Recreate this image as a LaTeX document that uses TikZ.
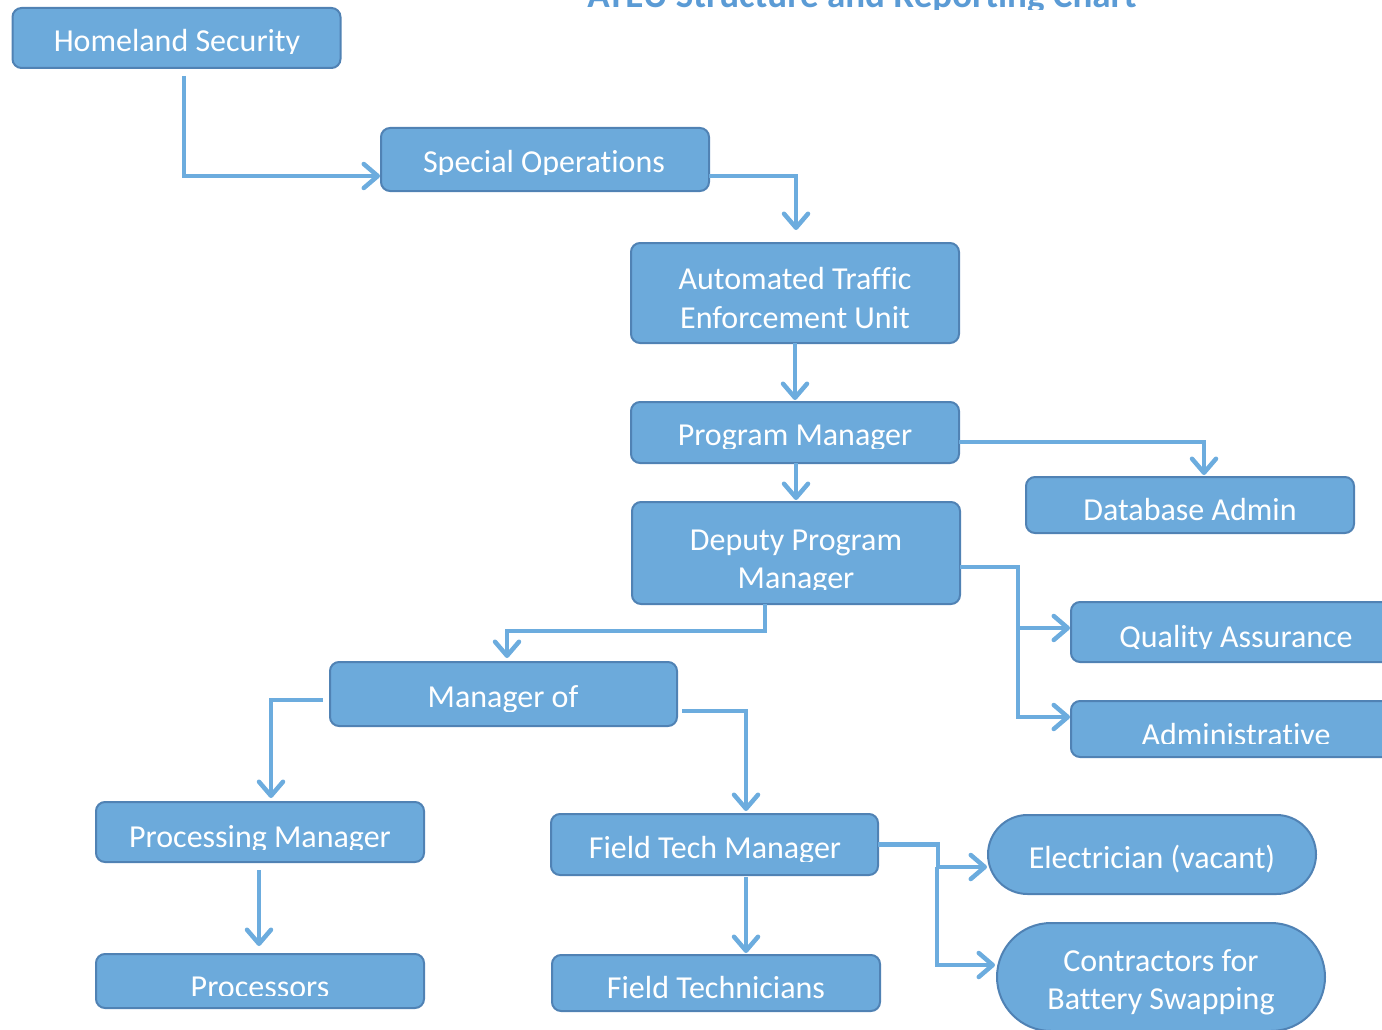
\documentclass[tikz,border=0pt]{standalone}
\usepackage{fontspec}
\setmainfont{Carlito}[Ligatures=NoCommon]
\usetikzlibrary{arrows.meta,calc}

\definecolor{boxfill}{RGB}{108,170,219}
\definecolor{boxline}{RGB}{80,130,180}
\definecolor{linkblue}{RGB}{108,172,222}
\definecolor{titleblue}{RGB}{91,155,213}

% label whose lower part is cut off at a given height
% #1 name, #2 x, #3 baseline y, #4 cut y, #5 text
\newcommand\cutlabel[5]{%
  \begin{scope}
    \clip (#2-340,#4) rectangle (#2+340,#3-80);
    \node[lbl] (#1) at (#2,#3) {#5};
  \end{scope}}

\begin{document}
\begin{tikzpicture}[x=1pt,y=-1pt,
    box/.style={draw=boxline, line width=2pt, fill=boxfill, rounded corners=9pt,
      minimum width=328pt, minimum height=#1, inner sep=0pt, outer sep=0pt},
    pill/.style={draw=boxline, line width=2pt, fill=boxfill, rounded corners=#1,
      minimum width=328pt, inner sep=0pt, outer sep=0pt},
    lbl/.style={text=white, anchor=base, inner sep=0pt,
      font=\fontsize{32}{38}\selectfont},
    link/.style={draw=linkblue, line width=4.5pt,
      -{Straight Barb[length=14pt, width=24pt, round]}}]

\useasboundingbox (0,0) rectangle (1382,1030);

% heading, mostly above the page
\begin{scope}
  \clip (300,10) rectangle (1400,-60);
  \node[text=titleblue, anchor=base, inner sep=0pt,
    font=\fontsize{37}{44}\selectfont\bfseries] (title) at (862,8)
    {ATEU Structure and Reporting Chart};
\end{scope}

% boxes
\node[box=60pt]  (hs)   at (176.5,38)  {};
\node[box=63pt]  (so)   at (545,159.5) {};
\node[box=100pt] (ateu) at (795,293)   {};
\node[box=61pt]  (pm)   at (795,432.5) {};
\node[box=56pt]  (db)   at (1190,505)  {};
\node[box=102pt] (dpm)  at (796,553)   {};
\node[box=60pt, minimum width=330pt] (qa)  at (1236,632) {};
\node[box=56pt, minimum width=330pt] (adm) at (1236,729) {};
\node[box=64pt, minimum width=347pt] (mo)  at (503.5,694) {};
\node[box=60pt]  (prm)  at (260,832)   {};
\node[box=61pt, minimum width=327pt] (ftm) at (714.5,844.5) {};
\node[pill=39.5pt, minimum height=79pt]  (ele) at (1152,854.5) {};
\node[pill=54pt,   minimum height=108pt] (con) at (1161,977)   {};
\node[box=54pt]  (pr)   at (260,981)   {};
\node[box=56pt]  (ft)   at (716,983)   {};

% labels
\cutlabel{hs-t}{177}{52}{53.5}{Homeland Security}
\cutlabel{so-t}{544}{173}{175}{Special Operations}
\node[lbl] (ateu-t1) at (795,289) {Automated Traffic};
\node[lbl] (ateu-t2) at (795,328) {Enforcement Unit};
\cutlabel{pm-t}{795}{445}{448}{Program Manager}
\node[lbl] (db-t) at (1190,520) {Database Admin};
\node[lbl] (dpm-t1) at (796,550) {Deputy Program};
\cutlabel{dpm-t2}{796}{588}{589}{Manager}
\cutlabel{qa-t}{1236}{647}{648}{Quality Assurance}
\cutlabel{adm-t}{1236}{745}{743}{Administrative}
\cutlabel{mo-t}{503}{707}{711}{Manager of}
\cutlabel{prm-t}{260}{847}{849}{Processing Manager}
\cutlabel{ftm-t}{715}{858}{861}{Field Tech Manager}
\node[lbl] (ele-t) at (1152,868) {Electrician (vacant)};
\node[lbl] (con-t1) at (1161,971) {Contractors for};
\node[lbl] (con-t2) at (1161,1009) {Battery Swapping};
\cutlabel{pr-t}{260}{997}{995}{Processors}
\cutlabel{ft-t}{716}{998}{998}{Field Technicians}

% reporting lines
\draw[link] ($(hs.south)+(7.5,8)$) |- ($(so.west)+(-1,16.5)$);
\draw[link] ($(so.east)+(0,16.5)$) -| ($(ateu.north)+(1,-13)$);
\draw[link] (ateu.south) -- ($(pm.north)+(0,-2)$);
\draw[link] ($(pm.east)+(0,9.5)$) -| ($(db.north)+(14,-2)$);
\draw[link] ($(pm.south)+(1,0)$) -- ($(dpm.north)+(0,-2)$);
\draw[link] ($(dpm.south)+(-31,0)$) -- ++(0,27) -| ($(mo.north)+(3.5,-4)$);
\draw[link] ($(dpm.east)+(0,14)$) -- ++(58,0) |- ($(adm.west)+(-1,-12)$);
\draw[link] ($(dpm.east)+(58,14)$) |- ($(qa.west)+(-1,-4)$);
\draw[link] ($(mo.west)+(-7,6)$) -| ($(prm.north)+(11,-4)$);
\draw[link] ($(mo.east)+(5,17)$) -| ($(ftm.north)+(31.5,-3)$);
\draw[link] ($(prm.south)+(-1,8)$) -- ($(pr.north)+(-1,-8)$);
\draw[link] ($(ftm.south)+(31.5,2)$) -- ($(ft.north)+(30,-2)$);
\draw[link] (ftm.east) -- ++(60,0) |- ($(ele.west)+(-1,12.5)$);
\draw[link] ($(ftm.east)+(59,22)$) |- ($(con.west)+(-2,-12)$);

\end{tikzpicture}
\end{document}
